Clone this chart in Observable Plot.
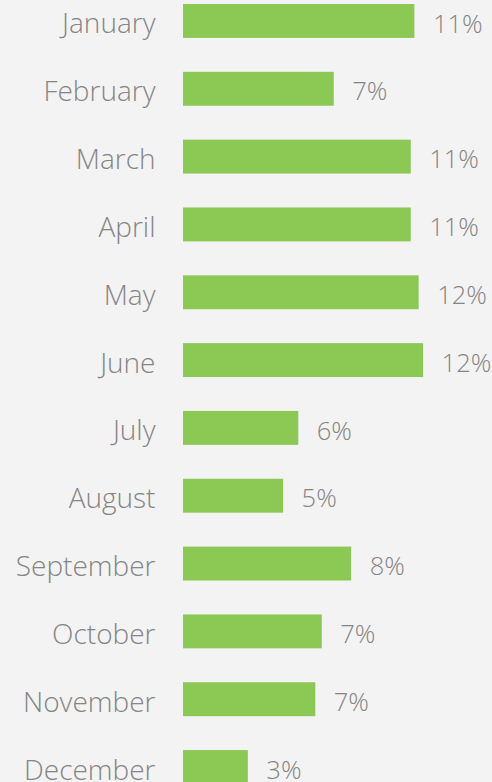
<!DOCTYPE html>
<html>
<head>
<meta charset="utf-8">
<script src="https://cdn.jsdelivr.net/npm/d3@7"></script>
<script src="https://cdn.jsdelivr.net/npm/@observablehq/plot@0.6"></script>
<style>
  html, body { margin: 0; padding: 0; background: #f3f3f3; overflow: hidden; }
  #chart svg { display: block; }
</style>
</head>
<body>
<div id="chart"></div>
<script>
const months = ["January","February","March","April","May","June","July","August","September","October","November","December"];
const shares = [11.42, 7.44, 11.24, 11.24, 11.63, 11.85, 5.69, 4.94, 8.30, 6.85, 6.53, 3.20];
const shareLabels = ["11%","7%","11%","11%","12%","12%","6%","5%","8%","7%","7%","3%"];

const data = months.map((m, i) => ({month: m, share: shares[i], label: shareLabels[i]}));

const font = "'Open Sans', sans-serif";
const chart = Plot.plot({
  width: 492,
  height: 788,
  marginTop: 0,
  marginBottom: 0,
  marginLeft: 183,
  marginRight: 0,
  style: {background: "#f3f3f3", fontFamily: font, fontWeight: 300},
  x: {domain: [0, 15.25], axis: null},
  y: {domain: months, paddingInner: 0.5, paddingOuter: 0.059, round: false, label: null},
  marks: [
    Plot.barX(data, {x: "share", y: "month", fill: "#8bc954"}),
    Plot.text(data, {x: "share", y: "month", text: "label", textAnchor: "start", dx: 18, dy: 3, fontSize: 25.5, fill: "#858585", fontWeight: 300}),
    Plot.axisY({tickSize: 0, tickPadding: 28, dy: 3, fontSize: 28, fill: "#858585", label: null, fontWeight: 300})
  ]
});
document.getElementById("chart").appendChild(chart);
</script>
</body>
</html>
